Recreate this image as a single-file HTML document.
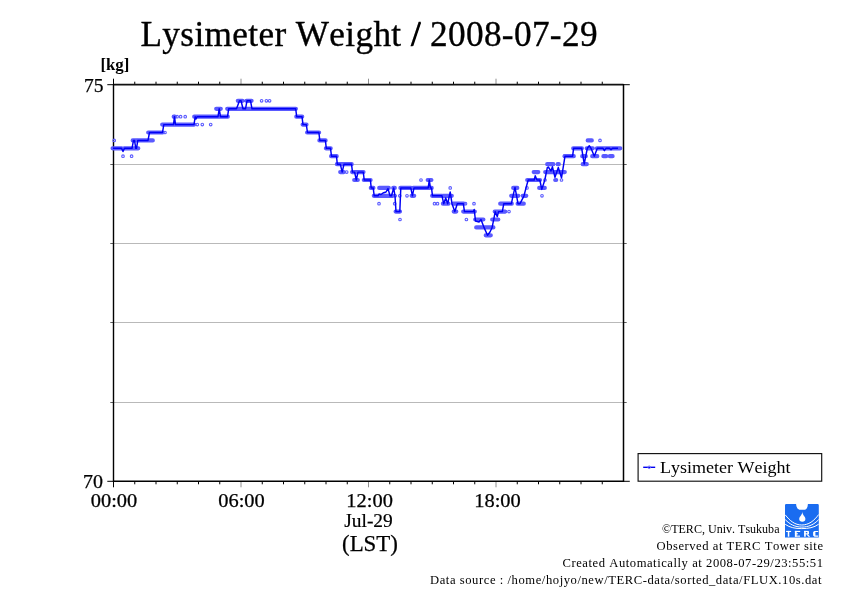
<!DOCTYPE html>
<html><head><meta charset="utf-8"><style>
html,body{margin:0;padding:0;background:#fff;}
svg{display:block;will-change:transform;}
text{font-family:'Liberation Serif',serif;font-kerning:none;font-feature-settings:'kern' 0;}
</style></head><body>
<svg width="842" height="595" viewBox="0 0 842 595">
<rect width="842" height="595" fill="#fff"/>
<line x1="113.5" y1="164.5" x2="623.5" y2="164.5" stroke="#b9b9b9" stroke-width="1"/>
<line x1="110.3" y1="164.5" x2="113.5" y2="164.5" stroke="#606060" stroke-width="1"/>
<line x1="623.5" y1="164.5" x2="626.7" y2="164.5" stroke="#606060" stroke-width="1"/>
<line x1="113.5" y1="243.5" x2="623.5" y2="243.5" stroke="#b9b9b9" stroke-width="1"/>
<line x1="110.3" y1="243.5" x2="113.5" y2="243.5" stroke="#606060" stroke-width="1"/>
<line x1="623.5" y1="243.5" x2="626.7" y2="243.5" stroke="#606060" stroke-width="1"/>
<line x1="113.5" y1="322.5" x2="623.5" y2="322.5" stroke="#b9b9b9" stroke-width="1"/>
<line x1="110.3" y1="322.5" x2="113.5" y2="322.5" stroke="#606060" stroke-width="1"/>
<line x1="623.5" y1="322.5" x2="626.7" y2="322.5" stroke="#606060" stroke-width="1"/>
<line x1="113.5" y1="402.5" x2="623.5" y2="402.5" stroke="#b9b9b9" stroke-width="1"/>
<line x1="110.3" y1="402.5" x2="113.5" y2="402.5" stroke="#606060" stroke-width="1"/>
<line x1="623.5" y1="402.5" x2="626.7" y2="402.5" stroke="#606060" stroke-width="1"/>
<line x1="113.50" y1="78.7" x2="113.50" y2="84.7" stroke="#000" stroke-width="1"/>
<line x1="113.50" y1="481.3" x2="113.50" y2="487.3" stroke="#000" stroke-width="1"/>
<line x1="134.75" y1="81.7" x2="134.75" y2="84.7" stroke="#000" stroke-width="1"/>
<line x1="134.75" y1="481.3" x2="134.75" y2="484.3" stroke="#000" stroke-width="1"/>
<line x1="156.00" y1="81.7" x2="156.00" y2="84.7" stroke="#000" stroke-width="1"/>
<line x1="156.00" y1="481.3" x2="156.00" y2="484.3" stroke="#000" stroke-width="1"/>
<line x1="177.25" y1="81.7" x2="177.25" y2="84.7" stroke="#000" stroke-width="1"/>
<line x1="177.25" y1="481.3" x2="177.25" y2="484.3" stroke="#000" stroke-width="1"/>
<line x1="198.50" y1="81.7" x2="198.50" y2="84.7" stroke="#000" stroke-width="1"/>
<line x1="198.50" y1="481.3" x2="198.50" y2="484.3" stroke="#000" stroke-width="1"/>
<line x1="219.75" y1="81.7" x2="219.75" y2="84.7" stroke="#000" stroke-width="1"/>
<line x1="219.75" y1="481.3" x2="219.75" y2="484.3" stroke="#000" stroke-width="1"/>
<line x1="241.00" y1="78.7" x2="241.00" y2="84.7" stroke="#909090" stroke-width="1"/>
<line x1="241.00" y1="481.3" x2="241.00" y2="487.3" stroke="#909090" stroke-width="1"/>
<line x1="262.25" y1="81.7" x2="262.25" y2="84.7" stroke="#000" stroke-width="1"/>
<line x1="262.25" y1="481.3" x2="262.25" y2="484.3" stroke="#000" stroke-width="1"/>
<line x1="283.50" y1="81.7" x2="283.50" y2="84.7" stroke="#000" stroke-width="1"/>
<line x1="283.50" y1="481.3" x2="283.50" y2="484.3" stroke="#000" stroke-width="1"/>
<line x1="304.75" y1="81.7" x2="304.75" y2="84.7" stroke="#000" stroke-width="1"/>
<line x1="304.75" y1="481.3" x2="304.75" y2="484.3" stroke="#000" stroke-width="1"/>
<line x1="326.00" y1="81.7" x2="326.00" y2="84.7" stroke="#000" stroke-width="1"/>
<line x1="326.00" y1="481.3" x2="326.00" y2="484.3" stroke="#000" stroke-width="1"/>
<line x1="347.25" y1="81.7" x2="347.25" y2="84.7" stroke="#000" stroke-width="1"/>
<line x1="347.25" y1="481.3" x2="347.25" y2="484.3" stroke="#000" stroke-width="1"/>
<line x1="368.50" y1="78.7" x2="368.50" y2="84.7" stroke="#909090" stroke-width="1"/>
<line x1="368.50" y1="481.3" x2="368.50" y2="487.3" stroke="#909090" stroke-width="1"/>
<line x1="389.75" y1="81.7" x2="389.75" y2="84.7" stroke="#000" stroke-width="1"/>
<line x1="389.75" y1="481.3" x2="389.75" y2="484.3" stroke="#000" stroke-width="1"/>
<line x1="411.00" y1="81.7" x2="411.00" y2="84.7" stroke="#000" stroke-width="1"/>
<line x1="411.00" y1="481.3" x2="411.00" y2="484.3" stroke="#000" stroke-width="1"/>
<line x1="432.25" y1="81.7" x2="432.25" y2="84.7" stroke="#000" stroke-width="1"/>
<line x1="432.25" y1="481.3" x2="432.25" y2="484.3" stroke="#000" stroke-width="1"/>
<line x1="453.50" y1="81.7" x2="453.50" y2="84.7" stroke="#000" stroke-width="1"/>
<line x1="453.50" y1="481.3" x2="453.50" y2="484.3" stroke="#000" stroke-width="1"/>
<line x1="474.75" y1="81.7" x2="474.75" y2="84.7" stroke="#000" stroke-width="1"/>
<line x1="474.75" y1="481.3" x2="474.75" y2="484.3" stroke="#000" stroke-width="1"/>
<line x1="496.00" y1="78.7" x2="496.00" y2="84.7" stroke="#909090" stroke-width="1"/>
<line x1="496.00" y1="481.3" x2="496.00" y2="487.3" stroke="#909090" stroke-width="1"/>
<line x1="517.25" y1="81.7" x2="517.25" y2="84.7" stroke="#000" stroke-width="1"/>
<line x1="517.25" y1="481.3" x2="517.25" y2="484.3" stroke="#000" stroke-width="1"/>
<line x1="538.50" y1="81.7" x2="538.50" y2="84.7" stroke="#000" stroke-width="1"/>
<line x1="538.50" y1="481.3" x2="538.50" y2="484.3" stroke="#000" stroke-width="1"/>
<line x1="559.75" y1="81.7" x2="559.75" y2="84.7" stroke="#000" stroke-width="1"/>
<line x1="559.75" y1="481.3" x2="559.75" y2="484.3" stroke="#000" stroke-width="1"/>
<line x1="581.00" y1="81.7" x2="581.00" y2="84.7" stroke="#000" stroke-width="1"/>
<line x1="581.00" y1="481.3" x2="581.00" y2="484.3" stroke="#000" stroke-width="1"/>
<line x1="602.25" y1="81.7" x2="602.25" y2="84.7" stroke="#000" stroke-width="1"/>
<line x1="602.25" y1="481.3" x2="602.25" y2="484.3" stroke="#000" stroke-width="1"/>
<line x1="107.3" y1="84.7" x2="113.5" y2="84.7" stroke="#000" stroke-width="1"/>
<line x1="107.3" y1="481.3" x2="113.5" y2="481.3" stroke="#000" stroke-width="1"/>
<line x1="623.5" y1="84.7" x2="629.8" y2="84.7" stroke="#000" stroke-width="1"/>
<line x1="623.5" y1="481.3" x2="629.8" y2="481.3" stroke="#000" stroke-width="1"/>
<line x1="113.5" y1="84.7" x2="623.5" y2="84.7" stroke="#111" stroke-width="1.7"/>
<line x1="113.5" y1="481.3" x2="623.5" y2="481.3" stroke="#000" stroke-width="1.5"/>
<line x1="113.5" y1="83.9" x2="113.5" y2="482.0" stroke="#000" stroke-width="1.4"/>
<line x1="623.5" y1="83.9" x2="623.5" y2="482.0" stroke="#000" stroke-width="1.5"/>
<path d="M132.7,140.4H136.8M133.2,148.3H138.3M149.2,140.4H152.8M148.2,132.5H161.8M162.2,124.6H170.8M173.7,116.7H174.8M194.2,116.7H220.8M216.2,108.8H220.8M221.2,116.7H227.8M227.2,108.8H293.8M237.8,100.8H242.5M246.4,100.8H251.6M297.2,116.7H301.8M303.2,124.6H305.8M307.2,132.5H317.8M320.2,140.4H324.8M326.2,148.3H329.8M331.2,156.2H335.8M337.2,164.2H350.8M341.2,172.1H342.8M352.2,172.1H362.8M356.2,180.0H356.8M364.2,180.0H369.8M371.2,187.9H372.8M374.2,195.8H392.8M379.2,187.9H388.8M393.2,187.9H394.8M396.2,211.6H398.8M401.2,187.9H410.8M412.2,195.8H412.8M413.2,187.9H429.8M427.7,180.0H431.4M340.2,172.1H343.8M354.2,180.0H357.8M411.6,195.8H414.2M432.2,195.8H440.8M442.9,203.7H448.5M443.2,195.8H451.8M453.2,203.7H463.8M453.7,211.6H456.3M463.2,211.6H474.8M475.2,219.5H483.4M476.2,227.4H493.4M485.7,235.3H490.8M492.2,219.5H498.3M494.7,211.6H504.8M500.2,203.7H511.8M511.2,195.8H516.8M518.2,203.7H523.8M513.2,187.9H517.3M511.2,195.8H518.3M522.7,195.8H526.3M527.2,180.0H538.8M533.7,172.1H538.3M539.2,187.9H544.8M545.2,172.1H562.8M547.2,164.2H553.3M557.7,164.2H558.8M556.2,172.1H564.8M556.2,180.0H555.8M564.7,156.2H573.8M573.2,148.3H581.8M582.2,156.2H585.8M582.7,164.2H586.8M586.7,148.3H592.8M587.7,140.4H591.8M592.2,156.2H597.3M597.2,148.3H620.3M603.4,156.2H606.2M609.8,156.2H612.6M112.6,148.3H121.7M124.1,148.3H132.2M133.1,140.4H134.7M135.4,148.3H136.7M137.4,140.4H148.2M149.1,132.5H162.7M163.4,124.6H173.7M175.1,124.6H194.2M196.6,116.7H218.2M220.1,116.7H227.7M228.3,108.8H236.7M239.1,100.8H241.2M242.6,108.8H245.7M246.6,100.8H250.7M251.6,108.8H295.9M296.3,116.7H302.2M302.6,124.6H306.5M307.1,132.5H319.1M319.4,140.4H325.6M325.9,148.3H330.7M331.1,156.2H336.7M336.9,164.2H340.5M343.6,164.2H351.7M352.1,172.1H354.8M357.6,172.1H363.5M363.8,180.0H370.6M370.8,187.9H373.4M373.8,195.8H378.2M389.6,195.8H391.7M395.6,211.6H400.0M400.4,187.9H411.0M413.6,187.9H428.4M430.0,187.9H431.7M432.1,195.8H442.2M456.9,203.7H463.5M464.1,211.6H473.7M498.1,211.6H502.5M503.4,203.7H511.6M517.6,203.7H520.2M527.8,180.0H534.4M536.6,180.0H540.0M564.6,156.2H572.8M573.2,148.3H581.9M596.9,148.3H603.2M605.6,148.3H609.7M612.1,148.3H618.2" fill="none" stroke="#5a5aff" stroke-width="4.2" stroke-linecap="round"/>
<circle cx="123" cy="156.2" r="1.3" fill="none" stroke="#5c5cff" stroke-width="1.1"/>
<circle cx="131.6" cy="156.2" r="1.3" fill="none" stroke="#5c5cff" stroke-width="1.1"/>
<circle cx="114.2" cy="140.4" r="1.3" fill="none" stroke="#5c5cff" stroke-width="1.1"/>
<circle cx="174.3" cy="116.7" r="1.3" fill="none" stroke="#5c5cff" stroke-width="1.1"/>
<circle cx="177.1" cy="116.7" r="1.3" fill="none" stroke="#5c5cff" stroke-width="1.1"/>
<circle cx="180.6" cy="116.7" r="1.3" fill="none" stroke="#5c5cff" stroke-width="1.1"/>
<circle cx="185.2" cy="116.7" r="1.3" fill="none" stroke="#5c5cff" stroke-width="1.1"/>
<circle cx="197.3" cy="124.6" r="1.3" fill="none" stroke="#5c5cff" stroke-width="1.1"/>
<circle cx="202.3" cy="124.6" r="1.3" fill="none" stroke="#5c5cff" stroke-width="1.1"/>
<circle cx="210.7" cy="124.6" r="1.3" fill="none" stroke="#5c5cff" stroke-width="1.1"/>
<circle cx="261.6" cy="100.8" r="1.3" fill="none" stroke="#5c5cff" stroke-width="1.1"/>
<circle cx="266.4" cy="100.8" r="1.3" fill="none" stroke="#5c5cff" stroke-width="1.1"/>
<circle cx="269.6" cy="100.8" r="1.3" fill="none" stroke="#5c5cff" stroke-width="1.1"/>
<circle cx="165" cy="132.5" r="1.3" fill="none" stroke="#5c5cff" stroke-width="1.1"/>
<circle cx="379" cy="203.7" r="1.3" fill="none" stroke="#5c5cff" stroke-width="1.1"/>
<circle cx="346.7" cy="172.1" r="1.3" fill="none" stroke="#5c5cff" stroke-width="1.1"/>
<circle cx="394.7" cy="203.7" r="1.3" fill="none" stroke="#5c5cff" stroke-width="1.1"/>
<circle cx="399.8" cy="195.8" r="1.3" fill="none" stroke="#5c5cff" stroke-width="1.1"/>
<circle cx="395.2" cy="195.8" r="1.3" fill="none" stroke="#5c5cff" stroke-width="1.1"/>
<circle cx="400" cy="219.5" r="1.3" fill="none" stroke="#5c5cff" stroke-width="1.1"/>
<circle cx="407" cy="195.8" r="1.3" fill="none" stroke="#5c5cff" stroke-width="1.1"/>
<circle cx="421" cy="180" r="1.3" fill="none" stroke="#5c5cff" stroke-width="1.1"/>
<circle cx="434.5" cy="203.7" r="1.3" fill="none" stroke="#5c5cff" stroke-width="1.1"/>
<circle cx="437.5" cy="203.7" r="1.3" fill="none" stroke="#5c5cff" stroke-width="1.1"/>
<circle cx="450.2" cy="187.9" r="1.3" fill="none" stroke="#5c5cff" stroke-width="1.1"/>
<circle cx="474" cy="203.7" r="1.3" fill="none" stroke="#5c5cff" stroke-width="1.1"/>
<circle cx="466.4" cy="219.5" r="1.3" fill="none" stroke="#5c5cff" stroke-width="1.1"/>
<circle cx="465.5" cy="203.7" r="1.3" fill="none" stroke="#5c5cff" stroke-width="1.1"/>
<circle cx="505.5" cy="211.6" r="1.3" fill="none" stroke="#5c5cff" stroke-width="1.1"/>
<circle cx="509" cy="211.6" r="1.3" fill="none" stroke="#5c5cff" stroke-width="1.1"/>
<circle cx="527" cy="187.9" r="1.3" fill="none" stroke="#5c5cff" stroke-width="1.1"/>
<circle cx="542" cy="195.8" r="1.3" fill="none" stroke="#5c5cff" stroke-width="1.1"/>
<circle cx="545" cy="180" r="1.3" fill="none" stroke="#5c5cff" stroke-width="1.1"/>
<circle cx="555" cy="180" r="1.3" fill="none" stroke="#5c5cff" stroke-width="1.1"/>
<circle cx="561.5" cy="180" r="1.3" fill="none" stroke="#5c5cff" stroke-width="1.1"/>
<circle cx="564.5" cy="156.2" r="1.3" fill="none" stroke="#5c5cff" stroke-width="1.1"/>
<circle cx="558.2" cy="164.2" r="1.3" fill="none" stroke="#5c5cff" stroke-width="1.1"/>
<circle cx="600" cy="140.4" r="1.3" fill="none" stroke="#5c5cff" stroke-width="1.1"/>
<polyline points="113.0,148.3 121.5,148.3 123.0,151.5 124.5,148.3 132.0,148.3 133.5,140.4 134.5,140.4 135.8,148.3 136.5,148.3 137.8,140.4 148.0,140.4 149.5,132.5 162.5,132.5 163.8,124.6 173.5,124.6 174.5,116.7 175.5,124.6 194.0,124.6 195.2,116.7 196.0,119.0 197.0,116.7 218.0,116.7 219.2,108.8 220.5,116.7 227.5,116.7 228.7,108.8 236.5,108.8 239.5,100.8 241.0,100.8 243.0,108.8 245.5,108.8 247.0,100.8 250.5,100.8 252.0,108.8 295.7,108.8 296.7,116.7 302.0,116.7 303.0,124.6 306.3,124.6 307.5,132.5 318.9,132.5 319.8,140.4 325.4,140.4 326.3,148.3 330.5,148.3 331.5,156.2 336.5,156.2 337.3,164.2 340.3,164.2 342.2,172.1 344.0,164.2 351.5,164.2 352.5,172.1 354.6,172.1 356.3,180.0 358.0,172.1 363.3,172.1 364.2,180.0 370.4,180.0 371.2,187.9 373.2,187.9 374.2,195.8 378.0,195.8 379.0,194.0 381.0,194.5 383.0,193.0 386.0,192.0 388.0,188.6 390.0,195.8 391.5,195.8 393.7,188.0 395.0,195.8 396.0,211.6 399.8,211.6 400.8,187.9 410.8,187.9 412.4,195.8 414.0,187.9 428.2,187.9 429.3,180.0 430.4,187.9 431.5,187.9 432.5,195.8 442.0,195.8 443.7,203.7 445.7,198.0 447.7,203.7 450.2,192.0 452.0,203.7 454.8,211.6 457.3,203.7 463.3,203.7 464.5,211.6 473.5,211.6 474.2,209.5 475.5,221.0 479.0,222.0 481.0,219.5 484.0,227.4 487.5,235.3 490.0,232.0 492.0,227.8 493.7,219.7 495.2,211.6 497.3,216.7 498.5,211.6 502.3,211.6 503.8,203.7 511.4,203.7 513.0,195.8 515.0,187.4 518.0,203.7 520.0,203.7 524.0,195.8 526.0,187.9 528.2,180.0 534.2,180.0 535.2,175.8 537.0,180.0 539.8,180.0 541.8,189.4 544.8,180.0 547.3,167.7 548.3,167.0 551.0,171.0 552.4,166.7 555.0,177.3 558.3,167.5 561.5,177.8 565.0,156.2 572.6,156.2 573.6,148.3 581.7,148.3 584.2,164.0 587.3,148.3 589.3,145.7 591.0,148.3 594.3,156.2 597.3,148.3 603.0,148.3 604.4,150.7 606.0,148.3 609.5,148.3 611.0,149.7 612.5,148.3 618.0,148.3" fill="none" stroke="#0000f5" stroke-width="1.45" stroke-linejoin="round"/>
<text x="140.5" y="46" font-size="35.2" text-anchor="start" font-weight="400" fill="#000" textLength="457" lengthAdjust="spacing" stroke="#000" stroke-width="0.35">Lysimeter Weight / 2008-07-29</text>
<line x1="412.3" y1="45.6" x2="420.1" y2="22.4" stroke="#000" stroke-width="2.1"/>
<text x="100.4" y="70.2" font-size="17.6" text-anchor="start" font-weight="700" fill="#000" textLength="29" lengthAdjust="spacingAndGlyphs">[kg]</text>
<text x="84" y="91.5" font-size="19.5" text-anchor="start" font-weight="400" fill="#000" textLength="19.5" lengthAdjust="spacingAndGlyphs" stroke="#000" stroke-width="0.25">75</text>
<text x="83" y="487.5" font-size="19.5" text-anchor="start" font-weight="400" fill="#000" textLength="20" lengthAdjust="spacingAndGlyphs" stroke="#000" stroke-width="0.25">70</text>
<text x="114" y="506.8" font-size="19" text-anchor="middle" font-weight="400" fill="#000" textLength="46.5" lengthAdjust="spacingAndGlyphs" stroke="#000" stroke-width="0.25">00:00</text>
<text x="241.5" y="506.8" font-size="19" text-anchor="middle" font-weight="400" fill="#000" textLength="46.5" lengthAdjust="spacingAndGlyphs" stroke="#000" stroke-width="0.25">06:00</text>
<text x="369.6" y="506.8" font-size="19" text-anchor="middle" font-weight="400" fill="#000" textLength="46.5" lengthAdjust="spacingAndGlyphs" stroke="#000" stroke-width="0.25">12:00</text>
<text x="497.5" y="506.8" font-size="19" text-anchor="middle" font-weight="400" fill="#000" textLength="46.5" lengthAdjust="spacingAndGlyphs" stroke="#000" stroke-width="0.25">18:00</text>
<text x="368.5" y="526.5" font-size="19" text-anchor="middle" font-weight="400" fill="#000" textLength="48.5" lengthAdjust="spacingAndGlyphs" stroke="#000" stroke-width="0.2">Jul-29</text>
<text x="370" y="550.5" font-size="23" text-anchor="middle" font-weight="400" fill="#000" textLength="56" lengthAdjust="spacingAndGlyphs" stroke="#000" stroke-width="0.25">(LST)</text>
<rect x="638.1" y="453.6" width="183.6" height="27.6" fill="#fff" stroke="#111" stroke-width="1.15"/>
<line x1="643.2" y1="467.3" x2="655.2" y2="467.3" stroke="#0000f0" stroke-width="1.4"/>
<circle cx="649.2" cy="467.3" r="1.3" fill="none" stroke="#7070ff" stroke-width="1"/>
<text x="660" y="472.6" font-size="17.5" text-anchor="start" font-weight="400" fill="#000" textLength="130.5" lengthAdjust="spacingAndGlyphs">Lysimeter Weight</text>
<text x="779.5" y="532.8" font-size="12" text-anchor="end" font-weight="400" fill="#000" textLength="117.5" lengthAdjust="spacingAndGlyphs">©TERC, Univ. Tsukuba</text>
<text x="823" y="549.8" font-size="12.6" text-anchor="end" font-weight="400" fill="#000" textLength="166.5" lengthAdjust="spacing">Observed at TERC Tower site</text>
<text x="823" y="566.8" font-size="12.6" text-anchor="end" font-weight="400" fill="#000" textLength="260.5" lengthAdjust="spacing">Created Automatically at 2008-07-29/23:55:51</text>
<text x="821.5" y="583.5" font-size="12.6" text-anchor="end" font-weight="400" fill="#000" textLength="391.5" lengthAdjust="spacing">Data source : /home/hojyo/new/TERC-data/sorted_data/FLUX.10s.dat</text>
<g transform="translate(785,504)">
<path d="M1.2,0 H11.1 C11.3,3.5 13,5.8 15.2,5.8 H19.3 C21.5,5.8 22.7,3.5 22.9,0 H32.6 Q33.8,0 33.8,1.2 V33.6 H0 V1.2 Q0,0 1.2,0 Z" fill="#1a6cf0"/>
<path d="M17.4,7.6 C17.3,9.5 16.8,10.5 15.6,12 C14.6,13.2 14.2,14 14.2,15 C14.2,16.8 15.4,17.8 17.3,17.8 C19.2,17.8 20.4,16.8 20.4,15 C20.4,14 20,13.2 19,12 C17.8,10.5 17.5,9.5 17.4,7.6 Z" fill="#fff"/>
<g fill="none" stroke="#fff" stroke-width="1">
<path d="M0.2,10.8 C5,17 10,21 16.8,21 C23.6,21 29,17 33.7,10.5"/>
<path d="M0.2,15.6 C5,20.5 10,23 16.8,23.1 C23.6,23.1 29,20.5 33.7,15.6"/>
<path d="M0.2,20.3 C5,23.6 10,24.6 16.8,24.6 C23.6,24.6 29,23.6 33.7,20.2"/>
</g>
<g fill="#fff">
<rect x="1.1" y="26.9" width="5" height="1.1"/><rect x="2.8" y="26.9" width="1.5" height="5.8"/>
<rect x="9.9" y="26.9" width="1.8" height="5.8"/><rect x="9.9" y="26.9" width="5.3" height="1.1"/><rect x="9.9" y="29.3" width="3.1" height="1"/><rect x="9.9" y="31.6" width="5.1" height="1.1"/>
<rect x="19.1" y="26.9" width="1.7" height="5.8"/><rect x="19.1" y="26.9" width="4.4" height="1.1"/><rect x="22.3" y="27.3" width="1.7" height="2.8"/><rect x="19.1" y="29.3" width="4.4" height="1"/><path d="M21.3,30.2 L23,30.2 L25.2,32.7 L23.4,32.7 Z"/>
<path d="M29.4,26.9 H33.2 V28 H30.4 V31.6 H33.2 V32.7 H29.4 L28.1,31.6 V28 Z"/>
</g>
</g>
</svg>
</body></html>
